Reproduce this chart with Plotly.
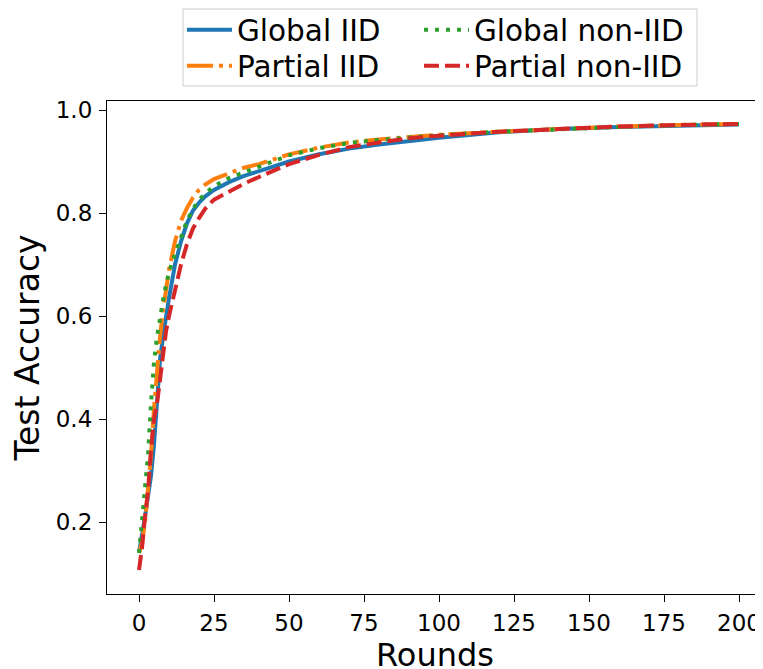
import plotly.graph_objects as go

rounds = [0, 1, 2, 3, 4, 5, 6, 7, 8, 9, 10, 12, 14, 16, 18, 20, 22, 25, 30, 35, 40,
          50, 60, 70, 80, 90, 100, 120, 140, 160, 180, 200]

global_iid = [0.140, 0.170, 0.210, 0.250, 0.290, 0.350, 0.430, 0.515, 0.560, 0.600, 0.635,
              0.700, 0.745, 0.780, 0.805, 0.820, 0.832, 0.845, 0.860, 0.872, 0.881,
              0.900, 0.914, 0.925, 0.933, 0.940, 0.946, 0.957, 0.963, 0.967, 0.970, 0.972]

partial_iid = [0.140, 0.160, 0.200, 0.260, 0.330, 0.420, 0.500, 0.560, 0.610, 0.655, 0.690,
               0.745, 0.785, 0.810, 0.830, 0.845, 0.855, 0.866, 0.878, 0.888, 0.895,
               0.914, 0.927, 0.937, 0.943, 0.948, 0.952, 0.958, 0.963, 0.968, 0.971, 0.973]

global_noniid = [0.140, 0.200, 0.260, 0.330, 0.430, 0.510, 0.560, 0.600, 0.630, 0.660, 0.685,
                 0.720, 0.755, 0.785, 0.808, 0.825, 0.838, 0.852, 0.868, 0.879, 0.888,
                 0.912, 0.926, 0.936, 0.942, 0.947, 0.951, 0.958, 0.963, 0.967, 0.971, 0.973]

partial_noniid = [0.107, 0.150, 0.210, 0.260, 0.340, 0.400, 0.430, 0.480, 0.530, 0.570, 0.600,
                  0.650, 0.700, 0.740, 0.770, 0.790, 0.808, 0.826, 0.842, 0.857, 0.870,
                  0.895, 0.913, 0.928, 0.937, 0.945, 0.950, 0.958, 0.963, 0.968, 0.971, 0.973]

series = [
    ("Global IID", global_iid, "#1f77b4", "solid", "legend"),
    ("Partial IID", partial_iid, "#ff7f0e", "26px,6px,4px,6px", "legend2"),
    ("Global non-IID", global_noniid, "#2ca02c", "4px,7px", "legend3"),
    ("Partial non-IID", partial_noniid, "#d62728", "15px,6px", "legend4"),
]

font = "DejaVu Sans, Verdana, sans-serif"

fig = go.Figure()
for name, vals, color, dash, leg in series:
    fig.add_trace(go.Scatter(
        x=rounds, y=vals, mode="lines", name=name, legend=leg,
        line=dict(color=color, width=4, dash=dash),
    ))

def leg(x, y):
    return dict(
        orientation="v", yanchor="top", xanchor="left", x=x, y=y,
        font=dict(size=29.5, family=font, color="black"),
        bgcolor="rgba(0,0,0,0)", borderwidth=0, itemwidth=45,
    )

fig.update_layout(
    width=755, height=669,
    margin=dict(l=99, r=0, t=93, b=83, autoexpand=False),
    paper_bgcolor="white", plot_bgcolor="white",
    font=dict(family=font, color="black"),
    showlegend=True,
    legend=leg(0.1143, 1.1968),
    legend2=leg(0.1143, 1.1237),
    legend3=leg(0.4756, 1.1968),
    legend4=leg(0.4756, 1.1237),
    shapes=[dict(
        type="rect", xref="paper", yref="paper",
        x0=0.1159, x1=0.8994, y0=1.0304, y1=1.1866,
        line=dict(color="#cccccc", width=1), fillcolor="white", layer="above",
    )],
    xaxis=dict(
        range=[-10.67, 208.0], tickvals=[0, 25, 50, 75, 100, 125, 150, 175, 200],
        showgrid=False, zeroline=False, showline=True, linecolor="black", linewidth=1.2,
        mirror=True, ticks="outside", ticklen=7, tickwidth=1.2, tickcolor="black",
        ticklabelstandoff=1,
        tickfont=dict(size=23, family=font, color="black"), automargin=False,
        title=dict(text="Rounds", font=dict(size=32, family=font, color="black"), standoff=0),
    ),
    yaxis=dict(
        range=[0.0603, 1.0175], tickvals=[0.2, 0.4, 0.6, 0.8, 1.0],
        ticktext=["0.2", "0.4", "0.6", "0.8", "1.0"],
        showgrid=False, zeroline=False, showline=True, linecolor="black", linewidth=1.2,
        ticks="outside", ticklen=7, tickwidth=1.2, tickcolor="black",
        ticklabelstandoff=2,
        tickfont=dict(size=23, family=font, color="black"), automargin=False,
        title=dict(text="Test Accuracy", font=dict(size=33, family=font, color="black"), standoff=10),
    ),
)

fig.write_html("out.html")
